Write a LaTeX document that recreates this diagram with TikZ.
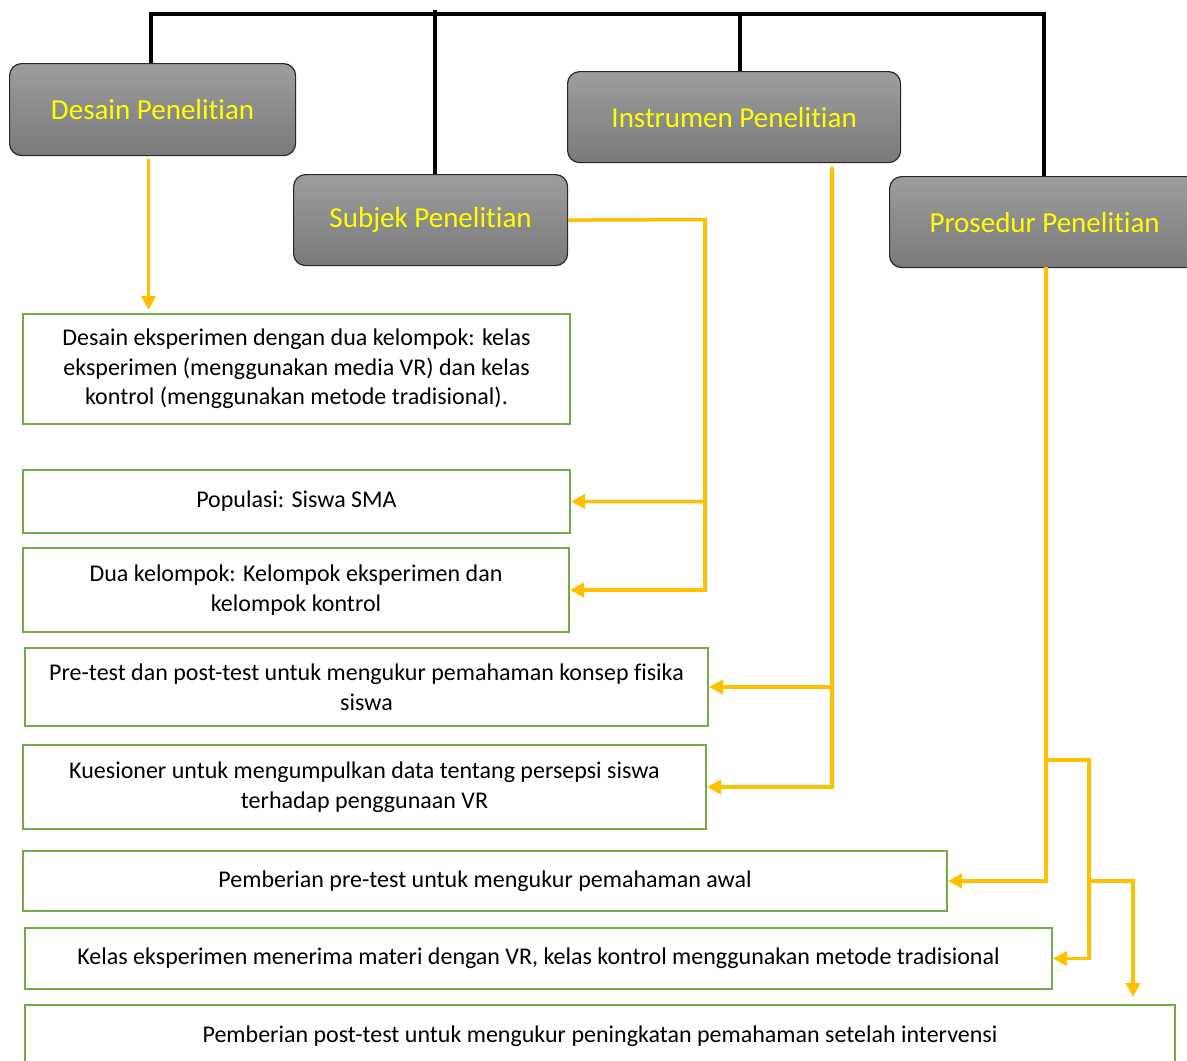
\documentclass[tikz,border=0pt]{standalone}
\usepackage{fontspec}
\setmainfont[Ligatures=NoCommon]{Carlito}
\usetikzlibrary{arrows.meta}
\definecolor{hdrtop}{RGB}{157,157,157}
\definecolor{hdrbot}{RGB}{122,122,122}
\definecolor{hdrline}{RGB}{40,40,40}
\definecolor{gline}{RGB}{112,173,71}
\definecolor{yline}{RGB}{255,192,0}
\definecolor{ytext}{RGB}{255,255,0}
\begin{document}
\begin{tikzpicture}[x=1pt,y=-1pt,
  hdr/.style={draw=hdrline, line width=1.2pt, rounded corners=12pt, top color=hdrtop, bottom color=hdrbot,
    text=ytext, font=\fontsize{29}{34}\selectfont, inner sep=0pt, anchor=north west},
  gbox/.style={draw=gline, line width=2pt, fill=white, align=center,
    font=\fontsize{24}{29.5}\selectfont, inner sep=0pt, anchor=north west},
  tline/.style={draw=black, line width=4pt, line join=miter},
  yarrow/.style={draw=yline, line width=3.5pt, line join=miter, -{Triangle[length=14pt,width=14pt]}},
  yplain/.style={draw=yline, line width=3.5pt, line join=miter}]
\clip (0,0) rectangle (1187,1061);
\fill[white] (0,0) rectangle (1187,1061);

% header nodes
\node[hdr, minimum width=286pt, minimum height=92pt] (desain) at (9,63) {Desain Penelitian};
\node[hdr, minimum width=274pt, minimum height=91pt] (subj) at (293,174) {Subjek Penelitian};
\node[hdr, minimum width=333pt, minimum height=91pt] (instr) at (567,71) {Instrumen Penelitian};
\node[hdr, minimum width=310pt, minimum height=91pt] (pros) at (889,176) {Prosedur Penelitian};

% top black connectors
\coordinate (top) at (0,14);
\draw[tline] ([xshift=-2pt]desain.north) -- ([xshift=-2pt]desain.north |- top) -- ([xshift=-1pt]pros.north |- top) -- ([xshift=-1pt]pros.north);
\draw[tline] ([xshift=4pt]subj.north) -- ([xshift=4pt,yshift=4pt]subj.north |- top);
\draw[tline] ([xshift=5.5pt]instr.north) -- ([xshift=5.5pt]instr.north |- top);

% green boxes
\node[gbox, minimum width=547pt, minimum height=110pt] (eks) at (22,313)
  {Desain eksperimen dengan dua kelompok: kelas\\eksperimen (menggunakan media VR) dan kelas\\kontrol (menggunakan metode tradisional).};
\node[gbox, minimum width=547pt, minimum height=63pt] (pop) at (22,469) {Populasi: Siswa SMA};
\node[gbox, minimum width=546pt, minimum height=84pt] (dua) at (22,547)
  {Dua kelompok: Kelompok eksperimen dan\\kelompok kontrol};
\node[gbox, minimum width=683pt, minimum height=78pt] (pre) at (24,647)
  {Pre-test dan post-test untuk mengukur pemahaman konsep fisika\\siswa};
\node[gbox, minimum width=683pt, minimum height=84pt] (kues) at (22,744)
  {Kuesioner untuk mengumpulkan data tentang persepsi siswa\\terhadap penggunaan VR};
\node[gbox, minimum width=924pt, minimum height=60pt] (awal) at (22,850)
  {Pemberian pre-test untuk mengukur pemahaman awal};
\node[gbox, minimum width=1027pt, minimum height=61pt] (kelas) at (24,927)
  {Kelas eksperimen menerima materi dengan VR, kelas kontrol menggunakan metode tradisional};
\node[gbox, minimum width=1150pt, minimum height=62pt] (post) at (24,1004)
  {Pemberian post-test untuk mengukur peningkatan pemahaman setelah intervensi};

% yellow connectors
\draw[yarrow] ([xshift=-4pt,yshift=-3pt]desain.south) -- ([xshift=-4pt,yshift=3pt]eks.north -| desain.south);

\coordinate (sj) at (705,219.5);
\draw[yarrow] (subj.east) -- (sj) |- (pop.east);
\draw[yarrow] (sj) |- (dua.east);

\coordinate (ij) at (832,167);
\draw[yarrow] (ij) |- (kues.east);
\draw[yarrow] (ij |- pre.east) -- (pre.east);

\coordinate (pj) at (1046,267);
\coordinate (p1) at (1046,760);
\coordinate (p2) at (1089,760);
\coordinate (p3) at (1133,997);
\draw[yarrow] (pj) |- (awal.east);
\draw[yarrow] (p1) -- (p2) |- (kelas.east);
\draw[yarrow] (p2 |- awal.east) -| (p3);
\end{tikzpicture}
\end{document}
